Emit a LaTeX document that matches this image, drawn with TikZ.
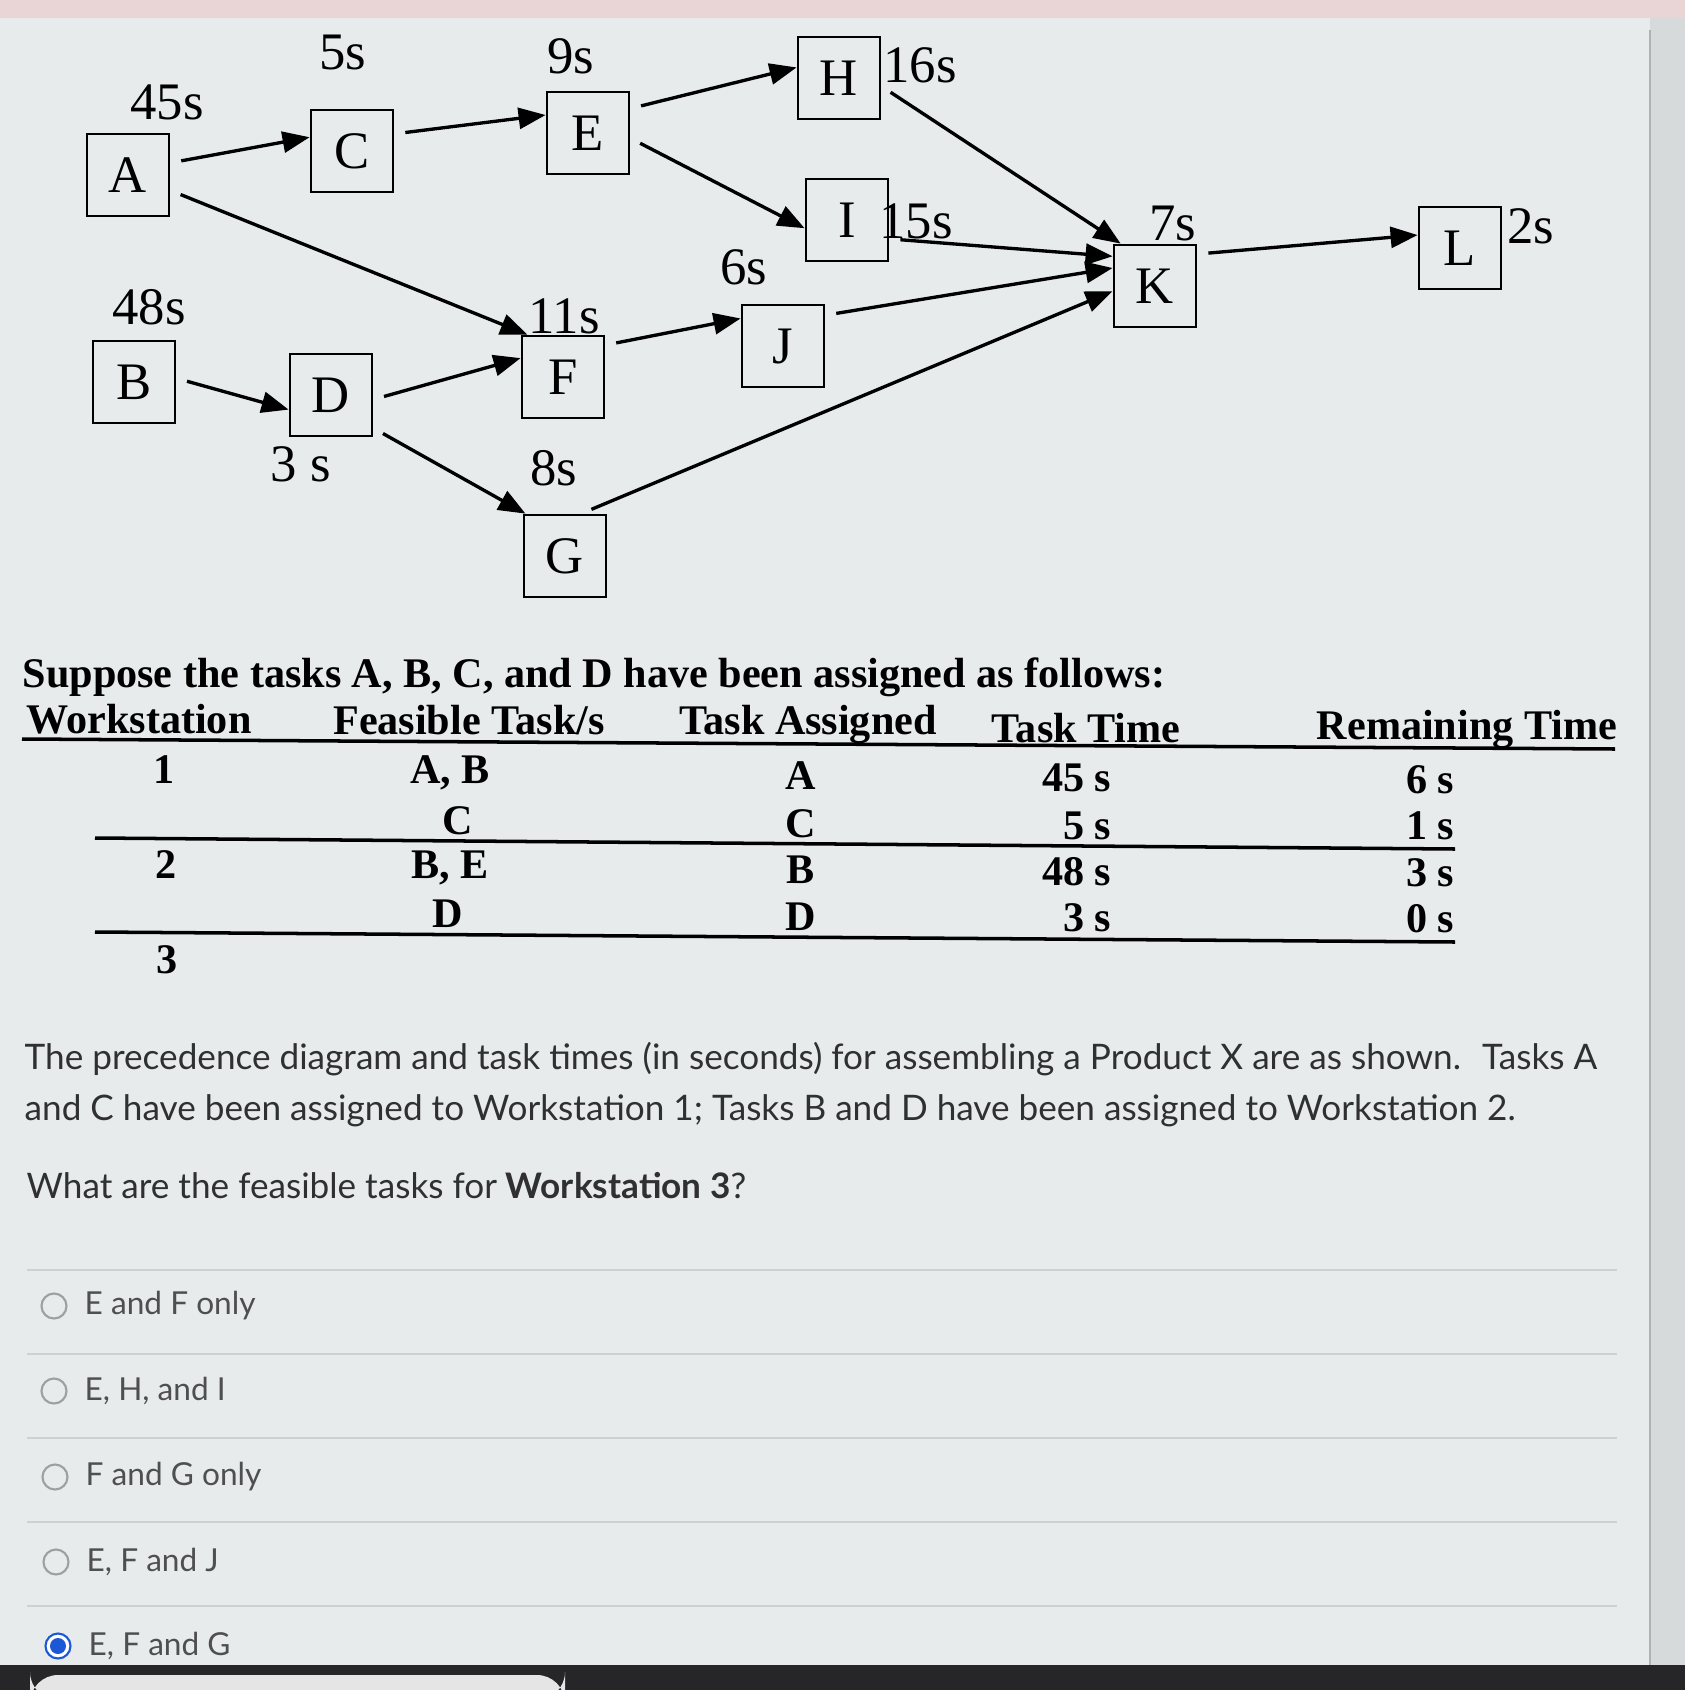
\documentclass[tikz,border=0pt]{standalone}
\usepackage{fontspec}
\setmainfont{Liberation Serif}
\newfontfamily\latofont{Lato}
\usetikzlibrary{arrows.meta,positioning}

\definecolor{screenbg}{RGB}{231,235,235}
\definecolor{edgebg}{RGB}{214,218,218}
\definecolor{topband}{RGB}{233,212,214}
\definecolor{barbg}{RGB}{38,38,40}
\definecolor{ruleg}{RGB}{206,209,209}
\definecolor{qtext}{RGB}{48,48,48}
\definecolor{radiob}{RGB}{28,88,214}

\begin{document}
\begin{tikzpicture}[x=0.1mm, y=-0.1mm,
  task/.style={draw, rectangle, line width=0.8pt, minimum size=8.2mm,
               inner sep=0pt, font=\fontsize{15}{18}\selectfont},
  tm/.style={font=\fontsize{15}{18}\selectfont, inner sep=0pt},
  arr/.style={-{Triangle[length=2.7mm,width=2.1mm]}, line width=0.95pt,
              shorten <=1.1mm},
  hd/.style={font=\fontsize{12}{14}\selectfont\bfseries, inner sep=0pt},
  para/.style={font=\latofont\fontsize{10}{12}\selectfont, text=qtext,
               inner sep=0pt, anchor=west},
  opt/.style={font=\latofont\fontsize{9}{11}\selectfont, text=qtext!85,
              inner sep=0pt, anchor=west},
  radio/.style={circle, draw=gray!75, line width=0.6pt, minimum size=2.5mm,
                inner sep=0pt},
  sep/.style={draw=ruleg, line width=0.5pt}
]

%% ═══════════════════════════════════════════════
%% screen
%% ═══════════════════════════════════════════════
\useasboundingbox (0,0) rectangle (1685,1690);
\fill[screenbg] (0,0) rectangle (1685,1690);
\fill[edgebg] (1650,0) rectangle (1685,1665);
\draw[gray!60, line width=0.5pt] (1650,30) -- (1650,1665);
\fill[topband] (0,0) rectangle (1685,18);
\fill[barbg] (0,1665) rectangle (1685,1690);
\fill[gray!20, rounded corners=8pt] (30,1675) rectangle (565,1700);

%% ═══════════════════════════════════════════════
%% precedence diagram
%% ═══════════════════════════════════════════════
\node[task] (A) at (128,175) {A};
\node[task] (C) at (352,151) {C};
\node[task] (E) at (588,133) {E};
\node[task] (H) at (839,78)  {H};
\node[task] (I) at (847,220) {I};
\node[task] (K) at (1155,286) {K};
\node[task] (L) at (1460,248) {L};
\node[task] (B) at (134,382) {B};
\node[task] (D) at (331,395) {D};
\node[task] (F) at (563,377) {F};
\node[task] (J) at (783,346) {J};
\node[task] (G) at (565,556) {G};

% task times
\node[tm] (tA) at (167,102)  {45s};
\node[tm] (tC) at (343,52)   {5s};
\node[tm] (tE) at (571,56)   {9s};
\node[tm] (tH) at (920,65)   {16s};
\node[tm] (tI) at (916,221)  {15s};
\node[tm] (tK) at (1173,223) {7s};
\node[tm] (tL) at (1531,226) {2s};
\node[tm] (tB) at (149,307)  {48s};
\node[tm] (tF) at (564,316)  {11s};
\node[tm] (tJ) at (744,267)  {6s};
\node[tm] (tD) at (301,464)  {3 s};
\node[tm] (tG) at (554,468)  {8s};

% precedence edges
\draw[arr] (A.16)  -- (C.162);
\draw[arr] (A.-20) -- (F.130);
\draw[arr] (C.22)  -- (E.157);
\draw[arr] (E.30)  -- (H.166);
\draw[arr] (E.-7)  -- (I.-169);
\draw[arr] (H.-11) -- (K.129);
\draw[arr] (I.-24) -- (K.145);
\draw[arr] (J.36)  -- (K.157);
\draw[arr] (G.69)  -- (K.187);
\draw[arr] (K.37)  -- (L.163);
\draw[arr] (B.5)   -- (D.199);
\draw[arr] (D.-6)  -- (F.156);
\draw[arr] (D.-38) -- (G.133);
\draw[arr] (F.37)  -- (J.147);

%% ═══════════════════════════════════════════════
%% assignment table
%% ═══════════════════════════════════════════════
\node[hd, anchor=west] (intro) at (22,677)
  {Suppose the tasks A, B, C, and D have been assigned as follows:};

\node[hd] (hWs)  at (139,719)  {Workstation};
\node[hd] (hFt)  at (469,720)  {Feasible Task/s};
\node[hd] (hTa)  at (808,725)  {Task Assigned};
\node[hd] (hTt)  at (1086,728) {Task Time};
\node[hd] (hRt)  at (1467,730) {Remaining Time};
\draw[line width=1pt] (22,739) -- (1615,749);

% workstation 1
\node[hd] (ws1)  at (164,770)  {1};
\node[hd] (ft1a) at (450,773)  {A, B};
\node[hd] (ta1a) at (801,776)  {A};
\node[hd, anchor=east] (tt1a) at (1112,778) {45 s};
\node[hd, anchor=east] (rt1a) at (1455,780) {6 s};
\node[hd] (ft1b) at (458,821)  {C};
\node[hd] (ta1b) at (801,824)  {C};
\node[hd, anchor=east] (tt1b) at (1112,826) {5 s};
\node[hd, anchor=east] (rt1b) at (1455,826) {1 s};
\draw[line width=1pt] (95,838) -- (1455,849);

% workstation 2
\node[hd] (ws2)  at (166,865)  {2};
\node[hd] (ft2a) at (450,868)  {B, E};
\node[hd] (ta2a) at (801,870)  {B};
\node[hd, anchor=east] (tt2a) at (1112,872) {48 s};
\node[hd, anchor=east] (rt2a) at (1455,873) {3 s};
\node[hd] (ft2b) at (448,914)  {D};
\node[hd] (ta2b) at (801,917)  {D};
\node[hd, anchor=east] (tt2b) at (1112,918) {3 s};
\node[hd, anchor=east] (rt2b) at (1455,919) {0 s};
\draw[line width=1pt] (95,932) -- (1455,942);

% workstation 3
\node[hd] (ws3)  at (167,960)  {3};

%% ═══════════════════════════════════════════════
%% question and answers
%% ═══════════════════════════════════════════════
\node[para] (q1) at (24,1059)
  {The precedence diagram and task times (in seconds) for assembling a Product X are as shown.~ Tasks A};
\node[para] (q2) at (24,1111)
  {and C have been assigned to Workstation 1; Tasks B and D have been assigned to Workstation 2.};
\node[para] (q3) at (26,1186)
  {What are the feasible tasks for \textbf{Workstation 3}?};

\foreach \y in {1270,1354,1438,1522,1606}
  \draw[sep] (27,\y) -- (1617,\y);

\node[radio] (r1) at (54,1306) {};
\node[opt, right=3mm of r1.center] (o1) {E and F only};
\node[radio] (r2) at (54,1391) {};
\node[opt, right=3mm of r2.center] (o2) {E, H, and I};
\node[radio] (r3) at (55,1477) {};
\node[opt, right=3mm of r3.center] (o3) {F and G only};
\node[radio] (r4) at (56,1562) {};
\node[opt, right=3mm of r4.center] (o4) {E, F and J};
\node[radio, draw=radiob, fill=white] (r5) at (58,1646) {};
\fill[radiob] (r5.center) circle (0.8mm);
\node[opt, right=3mm of r5.center] (o5) {E, F and G};

\end{tikzpicture}
\end{document}
